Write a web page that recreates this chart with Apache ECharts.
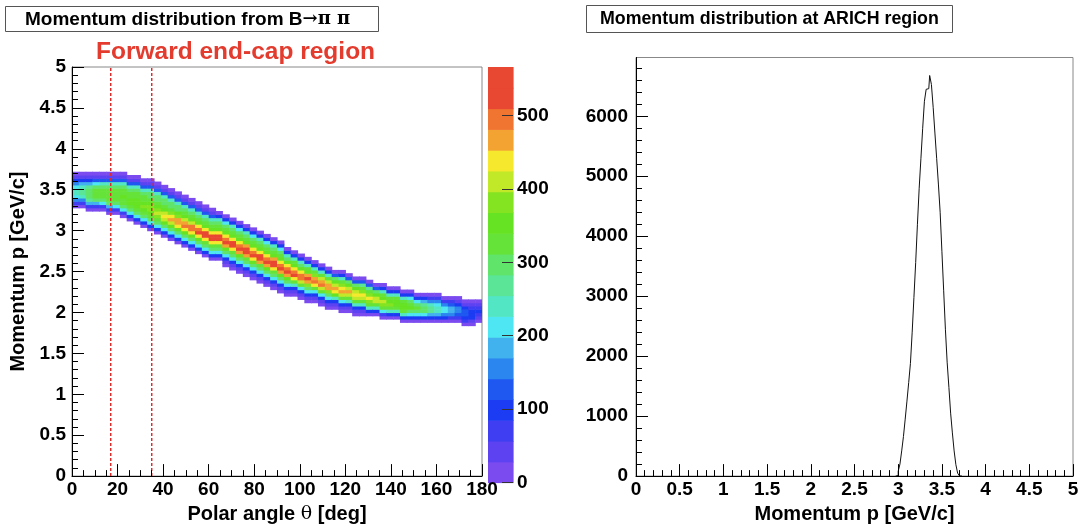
<!DOCTYPE html>
<html><head><meta charset="utf-8">
<script src="https://cdn.jsdelivr.net/npm/echarts@6/dist/echarts.min.js"></script>
<style>html,body{margin:0;padding:0;background:#fff;}#c{width:1083px;height:529px;}</style>
</head><body><div id="c"></div>
<script>
// ---------------- data ----------------
const thetaRange = [0, 180];          // deg
const momentumRange = [0, 5];         // GeV/c
const thetaBinWidth = 3;              // deg per column
const momentumBinWidth = 0.04;        // GeV/c per row
// first occupied momentum row of each theta column
const colStartRow = [82,82,81,81,81,80,80,79,78,77,76,75,74,73,72,71,70,69,68,67,
  66,66,64,63,62,61,60,59,58,57,56,55,55,54,53,53,52,51,51,50,
  50,49,49,49,49,48,48,48,47,47,47,47,47,47,47,47,47,46,46,47];
// contour level (0..19 -> '0'..'9','a'..'j') of each cell, bottom to top
const colLevels = [
  "02578875310","02589986310","0269aaa96310","026abbba7410","027abbba8410",
  "026abbbba8410","027abbbba8410","027abbcbba8410","037abccbba8410","037abcccbba8410",
  "037abcdcbba8410","037abcddcbaa8410","037abdedcbaa8410","037acefecbaa8410","037acegfdbaa8410",
  "037acfggdcaa8410","037acfhgecba8410","037acfhhecba8410","037acfihfcba8410","037abfiifcba8410",
  "037abfiifcba8410","037abfiifcba830","0137acgihfcba730","0137abfiifcba830","0137acgjhfcba730",
  "0137abgiigcba830","0137acfjhfcba730","0137abgiifcba830","0137acgihfcba730","0137abfiigcba830",
  "0137acgjhfcba730","0137acgihfca830","0138bfihfcb830","0137behhfca830","0137adgigcb830",
  "0137bfhgdb830","0137behgeb830","0137adggeb830","0138cfgeca40","0137begfdb830",
  "0138begeca40","0138befeca40","0138befdb940","038bdfdb940","038beeca40",
  "027bdecb830","038bdcb830","038bccb830","038bccb830","037acba730",
  "037aba730","037aa9630","036998520","036887520","03577520",
  "02566420","02455310","02344310","01333210","0123210"
];
const zMax = 566;
const nContours = 20;
const colorbarTicks = [0,100,200,300,400,500];
const arichThetaEdges = [17, 35];
const paletteColors = ['#7b4bef','#5c42f1','#3f3ef2','#1c3cf3','#1e58f1','#2b86f0','#42b2ee','#4de6f2',
  '#53e6c4','#5ae597','#61e46a','#66e338','#66e322','#84e422','#c2e928','#f6e82c','#f3a332','#ef7531','#e84731','#e84731'];

const histP = [2.97,2.99,3.01,3.03,3.05,3.07,3.09,3.11,3.13,3.15,3.17,3.19,3.21,3.23,3.25,3.27,3.29,3.31,3.33,3.35,
  3.37,3.39,3.41,3.43,3.45,3.47,3.49,3.51,3.53,3.55,3.57,3.59,3.61,3.63,3.65,3.67,3.69,3.71,3.73];
const histCounts = [0,10,80,200,420,660,950,1250,1560,1880,2400,2980,3560,4200,4800,5300,5800,6250,6450,6460,
  6680,6530,6150,5720,5300,4870,4400,3750,3100,2450,1900,1480,1050,720,420,190,50,5,0];
const histYMax = 6980;
const histYTicks = [0,1000,2000,3000,4000,5000,6000];
const histXRange = [0, 5];

// ---------------- build ----------------
const levelChars = '0123456789abcdefghij';
const step = zMax / nContours;
const cells = [];
colLevels.forEach((s, i) => {
  for (let k = 0; k < s.length; k++) {
    const lvl = levelChars.indexOf(s[k]);
    const row = colStartRow[i] + k;
    cells.push([i * thetaBinWidth, (i + 1) * thetaBinWidth,
      row * momentumBinWidth, (row + 1) * momentumBinWidth, (lvl + 0.5) * step]);
  }
});
const barCells = [];
for (let i = 0; i < nContours; i++) barCells.push([0, 1, i * step, (i + 1) * step, (i + 0.5) * step]);
const pieces = paletteColors.map((c, i) => ({gte: i * step, lt: (i + 1) * step, color: c}));

function renderRect(params, api) {
  const a = api.coord([api.value(0), api.value(2)]);
  const b = api.coord([api.value(1), api.value(3)]);
  return {type: 'rect', shape: {x: a[0], y: b[1], width: b[0] - a[0] + 0.6, height: a[1] - b[1] + 0.6},
    style: {fill: api.visual('color')}};
}

const FONT = 'Liberation Sans';
const lab = {color: '#000', fontFamily: FONT, fontWeight: 'bold', fontSize: 19};
const axLine = {show: true, onZero: false, lineStyle: {color: '#000', width: 1}};
const tickStyle = {color: '#000', width: 1};
const plain = v => String(v);

const chart = echarts.init(document.getElementById('c'), null, {renderer: 'canvas'});
chart.setOption({
  animation: false,
  backgroundColor: '#fff',
  textStyle: {fontFamily: FONT},
  title: [
    {text: '{a|Momentum distribution from B}{b|→π π}', left: 5, top: 5,
     borderColor: '#555', borderWidth: 1, padding: [4, 28, 3, 20],
     textStyle: {rich: {a: {fontFamily: FONT, fontWeight: 'bold', fontSize: 19, color: '#000', lineHeight: 21},
                        b: {fontFamily: 'DejaVu Serif', fontSize: 18, color: '#000', lineHeight: 21}}}},
    {text: 'Forward end-cap region', left: 91, top: 35,
     textStyle: {fontFamily: FONT, fontWeight: 'bold', fontSize: 24.5, color: '#e33b2e'}},
    {text: 'Momentum distribution at ARICH region', left: 586, top: 5,
     borderColor: '#555', borderWidth: 1, padding: [4, 14, 3, 14],
     textStyle: {fontFamily: FONT, fontWeight: 'bold', fontSize: 17.8, color: '#000', lineHeight: 21}}
  ],
  visualMap: {type: 'piecewise', show: false, dimension: 4, seriesIndex: [0, 3], pieces: pieces},
  grid: [
    {left: 72, top: 67, width: 410, height: 415.5, show: true, borderColor: '#888', borderWidth: 1},
    {left: 488, top: 67, width: 25, height: 415.5},
    {left: 636, top: 57.5, width: 437, height: 425, show: true, borderColor: '#888', borderWidth: 1}
  ],
  xAxis: [
    {gridIndex: 0, type: 'value', min: thetaRange[0], max: thetaRange[1], interval: 20, z: 5,
     axisLine: axLine, axisTick: {inside: true, length: 12, lineStyle: tickStyle},
     minorTick: {show: true, splitNumber: 4, length: 6, lineStyle: tickStyle},
     axisLabel: Object.assign({margin: 4}, lab), splitLine: {show: false},
     name: '{a|Polar angle }{b|θ}{a| [deg]}', nameLocation: 'middle', nameGap: 24,
     nameTextStyle: {rich: {a: {fontFamily: FONT, fontWeight: 'bold', fontSize: 20, color: '#000'},
                            b: {fontFamily: 'DejaVu Serif', fontSize: 19, color: '#000'}}}},
    {gridIndex: 1, type: 'value', min: 0, max: 1, show: false},
    {gridIndex: 2, type: 'value', min: histXRange[0], max: histXRange[1], interval: 0.5, z: 5,
     axisLine: axLine, axisTick: {inside: true, length: 12, lineStyle: tickStyle},
     minorTick: {show: true, splitNumber: 5, length: 6, lineStyle: tickStyle},
     axisLabel: Object.assign({margin: 4}, lab), splitLine: {show: false},
     name: 'Momentum p [GeV/c]', nameLocation: 'middle', nameGap: 24,
     nameTextStyle: {fontFamily: FONT, fontWeight: 'bold', fontSize: 20, color: '#000'}}
  ],
  yAxis: [
    {gridIndex: 0, type: 'value', min: momentumRange[0], max: momentumRange[1], interval: 0.5, z: 5,
     axisLine: axLine, axisTick: {inside: true, length: 12, lineStyle: tickStyle},
     minorTick: {show: true, splitNumber: 5, length: 6, lineStyle: tickStyle},
     axisLabel: Object.assign({margin: 6}, lab), splitLine: {show: false},
     name: 'Momentum p [GeV/c]', nameLocation: 'middle', nameGap: 44, nameRotate: 90,
     nameTextStyle: {fontFamily: FONT, fontWeight: 'bold', fontSize: 20, color: '#000'}},
    {gridIndex: 1, type: 'value', min: 0, max: zMax, interval: 100, position: 'right', z: 5,
     axisLine: {show: false, onZero: false},
     axisTick: {inside: true, length: 11, customValues: colorbarTicks, lineStyle: {color: '#333', width: 1}},
     axisLabel: Object.assign({margin: 4, customValues: colorbarTicks, formatter: plain}, lab),
     splitLine: {show: false}},
    {gridIndex: 2, type: 'value', min: 0, max: histYMax, interval: 1000, z: 5,
     axisLine: axLine,
     axisTick: {inside: true, length: 12, customValues: histYTicks, lineStyle: tickStyle},
     minorTick: {show: true, splitNumber: 5, length: 6, lineStyle: tickStyle},
     axisLabel: Object.assign({margin: 8, customValues: histYTicks, formatter: plain}, lab),
     splitLine: {show: false}}
  ],
  series: [
    {type: 'custom', xAxisIndex: 0, yAxisIndex: 0, renderItem: renderRect, data: cells,
     encode: {x: [0, 1], y: [2, 3]}, clip: true, z: 2},
    {type: 'line', xAxisIndex: 0, yAxisIndex: 0, symbol: 'none', z: 4,
     data: [[arichThetaEdges[0], momentumRange[0]], [arichThetaEdges[0], momentumRange[1]]],
     lineStyle: {color: '#e02a2a', width: 1.5, type: [3, 2]}},
    {type: 'line', xAxisIndex: 0, yAxisIndex: 0, symbol: 'none', z: 4,
     data: [[arichThetaEdges[1], momentumRange[0]], [arichThetaEdges[1], momentumRange[1]]],
     lineStyle: {color: '#e02a2a', width: 1.5, type: [3, 2]}},
    {type: 'custom', xAxisIndex: 1, yAxisIndex: 1, renderItem: renderRect, data: barCells,
     encode: {x: [0, 1], y: [2, 3]}, z: 2},
    {type: 'line', xAxisIndex: 2, yAxisIndex: 2, symbol: 'none', step: 'middle',
     data: histP.map((p, i) => [p, histCounts[i]]),
     lineStyle: {color: '#111', width: 1}}
  ]
});
</script></body></html>
